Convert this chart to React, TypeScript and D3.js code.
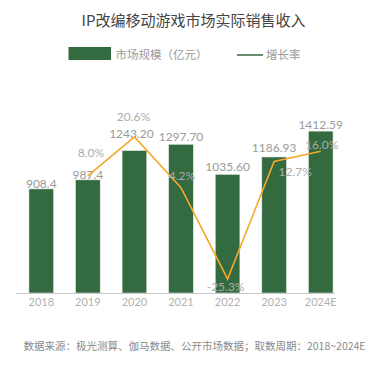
import React from "react";
import * as d3 from "d3";

const categories = ["2018", "2019", "2020", "2021", "2022", "2023", "2024E"];
const marketSize = [908.4, 987.4, 1243.2, 1297.7, 1035.6, 1186.93, 1412.59];
const marketLabels = ["908.4", "987.4", "1243.20", "1297.70", "1035.60", "1186.93", "1412.59"];
const growthCategories = ["2019", "2020", "2021", "2022", "2023", "2024E"];
const growthRate = [8.0, 20.6, 4.2, -25.3, 12.7, 16.0];
const growthLabels = ["8.0%", "20.6%", "4.2%", "-25.3%", "12.7%", "16.0%"];

// label placement offsets (style only)
const valueLabelDy = [-5, -5, -17, -8, -8, -9, -7];
const valueLabelDx = [0, 0, -3, 0, 0, 0, 0];
const pctLabelDx = [3, -1, 1, -2, 21, 1];
const pctLabelDy = [-23, -20, -12, 8, 10, -7];

const W = 387;
const H = 376;
const BASE = 293;
const FONT = "Lato, 'Noto Sans CJK SC', sans-serif";

export default function App() {
  const x = d3.scaleBand<string>().domain(categories).range([18, 344]).paddingInner(0.47).paddingOuter(0.235);
  const yBar = d3.scaleLinear().domain([0, 1600]).range([BASE, BASE - 1600 * 0.1146]);
  const yPct = d3.scaleLinear().domain([-30, 30]).range([293.5, 107.9]);
  const cx = (c: string) => (x(c) as number) + x.bandwidth() / 2;

  const line = d3
    .line<number>()
    .x((_, i) => cx(growthCategories[i]))
    .y((d) => yPct(d));

  return (
    <svg
      width={W}
      height={H}
      style={{ position: "absolute", left: 0, top: 0, background: "#fff" }}
      fontFamily={FONT}
    >
      <rect width={W} height={H} fill="#fff" />
      <text x={193.5} y={26} textAnchor="middle" fontSize={15} fill="#444" fontFamily="'Noto Sans CJK SC', sans-serif">
        IP改编移动游戏市场实际销售收入
      </text>

      {/* legend */}
      <rect x={68.5} y={47} width={42.5} height={13} fill="#346a3f" />
      <text x={115.5} y={58.5} fontSize={11.5} fill="#999" fontFamily="'Noto Sans CJK SC', sans-serif">
        市场规模（亿元）
      </text>
      <line x1={237} x2={263} y1={55} y2={55} stroke="#346a3f" strokeWidth={1.5} />
      <text x={266} y={59} fontSize={11.5} fill="#999" fontFamily="'Noto Sans CJK SC', sans-serif">
        增长率
      </text>

      {/* bars */}
      {categories.map((c, i) => (
        <rect
          key={c}
          x={x(c)}
          y={yBar(marketSize[i])}
          width={x.bandwidth()}
          height={BASE - yBar(marketSize[i])}
          fill="#346a3f"
          stroke="#e6ece6"
          strokeWidth={0.6}
        />
      ))}

      {/* axis */}
      <line x1={16.5} x2={335} y1={BASE + 0.5} y2={BASE + 0.5} stroke="#c8c8c8" strokeWidth={1} />
      {categories.map((c) => (
        <text key={c} x={cx(c)} y={306} textAnchor="middle" fontSize={11} fill="#b0b0b0">
          {c}
        </text>
      ))}

      {/* value labels */}
      {categories.map((c, i) => (
        <text
          key={c}
          x={cx(c) + valueLabelDx[i]}
          y={yBar(marketSize[i]) + valueLabelDy[i]}
          dominantBaseline="central"
          textAnchor="middle"
          fontSize={12}
          fill="#9a9a9a"
        >
          {marketLabels[i]}
        </text>
      ))}

      {/* growth line */}
      <path d={line(growthRate) || ""} fill="none" stroke="#f5a82a" strokeWidth={1.6} />

      {growthCategories.map((c, i) => (
        <text
          key={c}
          x={cx(c) + pctLabelDx[i]}
          y={yPct(growthRate[i]) + pctLabelDy[i]}
          dominantBaseline="central"
          textAnchor="middle"
          fontSize={12}
          fill="#adadad"
        >
          {growthLabels[i]}
        </text>
      ))}

      <text x={194.5} y={350} textAnchor="middle" fontSize={10.5} fill="#8a8a8a" fontFamily="'Noto Sans CJK SC', sans-serif">
        数据来源：极光测算、伽马数据、公开市场数据；取数周期：2018~2024E
      </text>
    </svg>
  );
}
